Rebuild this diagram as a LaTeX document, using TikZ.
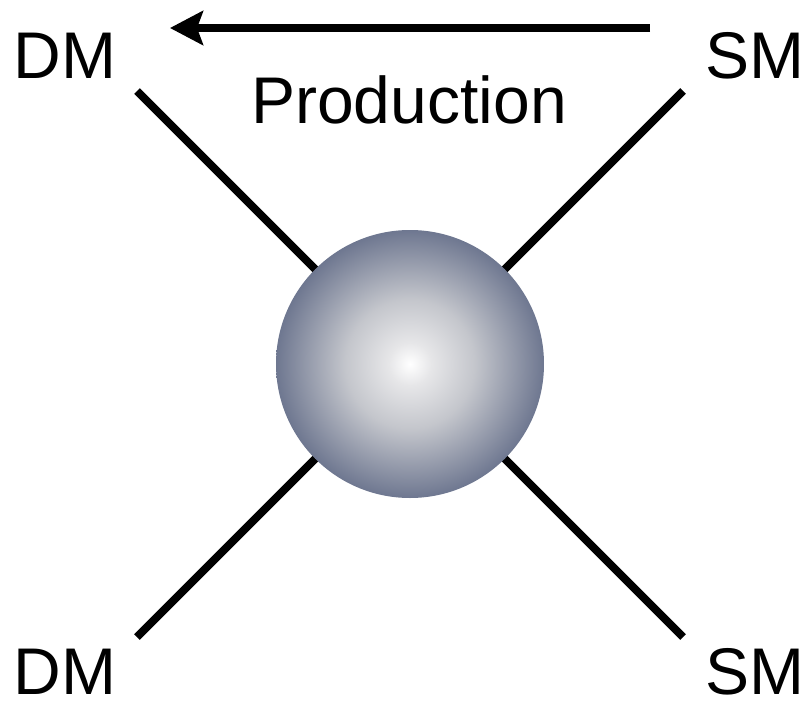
\documentclass[tikz,border=0pt]{standalone}
\usepackage{fontspec}
\setmainfont{Liberation Sans}
\usetikzlibrary{arrows.meta}
\definecolor{blobedge}{RGB}{110,119,144}
\definecolor{blobmid}{RGB}{196,198,204}
\definecolor{blobglow}{RGB}{230,230,232}
\pgfdeclareradialshading{blobshade}{\pgfpoint{0bp}{0bp}}{%
  color(0bp)=(white); color(4bp)=(blobglow); color(12bp)=(blobmid);
  color(25bp)=(blobedge); color(50bp)=(blobedge)}
\begin{document}
\begin{tikzpicture}[
  x=1pt, y=-1pt,
  leg/.style={line width=8pt},
  label/.style={inner sep=0pt, anchor=base, text depth=0pt, font=\fontsize{66}{70}\selectfont},
  blob/.style={circle, shading=blobshade, minimum size=268pt, inner sep=0pt}
]
\useasboundingbox (0,0) rectangle (809,701);

% Ball and leg ends
\coordinate (centre) at (410,364);
\coordinate (dmtop) at (137,91);
\coordinate (smtop) at (683,91);
\coordinate (dmbot) at (137,637);
\coordinate (smbot) at (683,637);

% Legs
\draw[leg] (centre) -- (dmtop);
\draw[leg] (centre) -- (smtop);
\draw[leg] (centre) -- (dmbot);
\draw[leg] (centre) -- (smbot);
\node[blob] (ball) at (centre) {};

% Labels
\node[label] (dm1) at (65,78) {DM};
\node[label] (sm1) at (755,78) {SM};
\node[label] (dm2) at (65,694) {DM};
\node[label] (sm2) at (755,694) {SM};
\node[label] (prod) at (409,123) {Production};

% Arrow
\coordinate (arrfrom) at (650,28);
\coordinate (arrto) at (170,28);
\draw[line width=8pt, -{Stealth[length=33pt, width=34pt, inset=6pt]}] (arrfrom) -- (arrto);
\end{tikzpicture}
\end{document}
